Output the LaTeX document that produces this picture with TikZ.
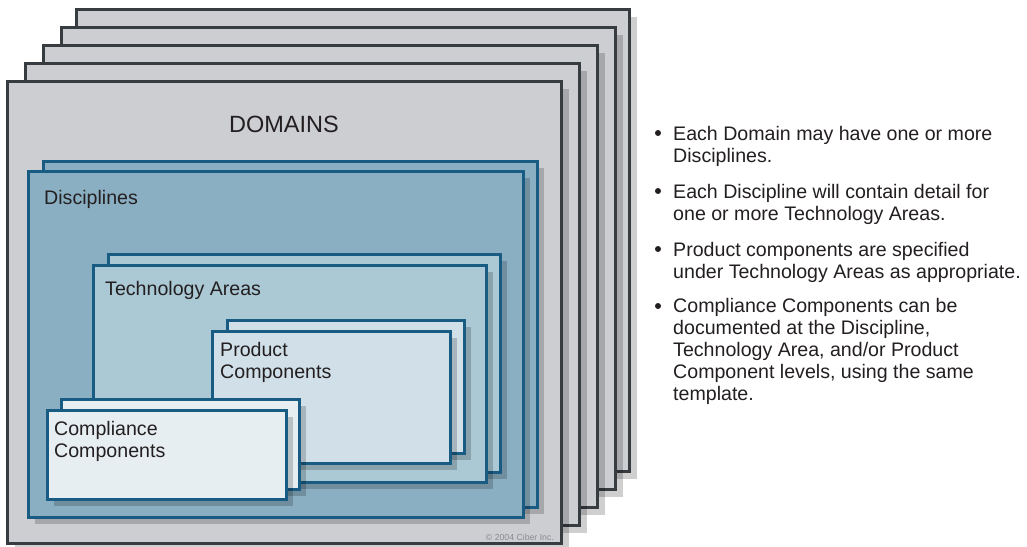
\documentclass[tikz,border=0pt]{standalone}
\usepackage{fontspec}
\setmainfont{Liberation Sans}

\definecolor{domfill}{HTML}{CDCED2}
\definecolor{domline}{HTML}{373C41}
\definecolor{discfill}{HTML}{8AAFC3}
\definecolor{blueline}{HTML}{185C84}
\definecolor{techfill}{HTML}{ABC8D5}
\definecolor{prodfill}{HTML}{D1DFE8}
\definecolor{compfill}{HTML}{E6EEF2}
\definecolor{inktext}{HTML}{231F20}
\definecolor{notegray}{HTML}{8A8C90}

% one card of a stack: drop shadow first, then the framed card
\newcommand{\cardbox}[6]{%
  \fill[cardshadow] ({#3+#2},{#4+#2}) rectangle ({#5+#2},{#6+#2});
  \draw[#1] (#3,#4) rectangle (#5,#6);
}

\begin{document}
\begin{tikzpicture}[x=1pt,y=-1pt,
  cardshadow/.style={fill=black,fill opacity=0.19},
  domcard/.style={fill=domfill,draw=domline,line width=3pt},
  disccard/.style={fill=discfill,draw=blueline,line width=3pt},
  techcard/.style={fill=techfill,draw=blueline,line width=3pt},
  prodcard/.style={fill=prodfill,draw=blueline,line width=3pt},
  compcard/.style={fill=compfill,draw=blueline,line width=3pt},
  label/.style={anchor=base west,inner sep=0pt,text=inktext,
    font=\fontsize{19.6}{22}\selectfont,align=left},
  bulletdot/.style={circle,fill=inktext,inner sep=0pt,minimum size=6pt},
  bullettext/.style={anchor=base west,inner sep=0pt,text=inktext,
    font=\fontsize{19.6}{21.8}\selectfont,align=left}]
\useasboundingbox (0,0) rectangle (1027,546);
\fill[white] (0,0) rectangle (1027,546);

% domain stack
\cardbox{domcard}{8}{76}{9}{629}{471}
\cardbox{domcard}{8}{61}{27}{615}{489}
\cardbox{domcard}{8}{43}{45}{597}{507}
\cardbox{domcard}{8}{25}{63}{579}{525}
\cardbox{domcard}{8}{7}{81}{561}{543}
\node[anchor=base,inner sep=0pt,text=inktext,font=\fontsize{23.5}{26}\selectfont]
  (domains) at (284,132) {DOMAINS};
\node[anchor=base east,inner sep=0pt,text=notegray,font=\fontsize{8.7}{10}\selectfont]
  (copyright) at (554,540) {© 2004 Ciber Inc.};

% disciplines
\cardbox{disccard}{7}{43}{161}{537}{507}
\cardbox{disccard}{7}{28}{171}{523}{517}
\node[label] (disciplines) at (44,204) {Disciplines};

% technology areas
\cardbox{techcard}{7}{108}{254}{500}{472}
\cardbox{techcard}{7}{93}{265}{486}{482}
\node[label] (techareas) at (105,295) {Technology Areas};

% product components (multi-line nodes sit on their last baseline)
\cardbox{prodcard}{7}{227}{320}{464}{453}
\cardbox{prodcard}{7}{212}{331}{450}{463}
\node[label] (product) at (220,378) {Product\\Components};

% compliance components
\cardbox{compcard}{7}{61}{399}{299}{489}
\cardbox{compcard}{7}{47}{410}{286}{499}
\node[label] (compliance) at (54,457) {Compliance\\Components};

% notes
\node[bulletdot] (b1) at (658,133) {};
\node[bullettext] (t1) at (673,162) {Each Domain may have one or more\\Disciplines.};
\node[bulletdot] (b2) at (658,191) {};
\node[bullettext] (t2) at (673,220) {Each Discipline will contain detail for\\one or more Technology Areas.};
\node[bulletdot] (b3) at (658,249) {};
\node[bullettext] (t3) at (673,278) {Product components are specified\\under Technology Areas as appropriate.};
\node[bulletdot] (b4) at (658,306) {};
\node[bullettext] (t4) at (673,400) {Compliance Components can be\\documented at the Discipline,\\Technology Area, and/or Product\\Component levels, using the same\\template.};
\end{tikzpicture}
\end{document}
